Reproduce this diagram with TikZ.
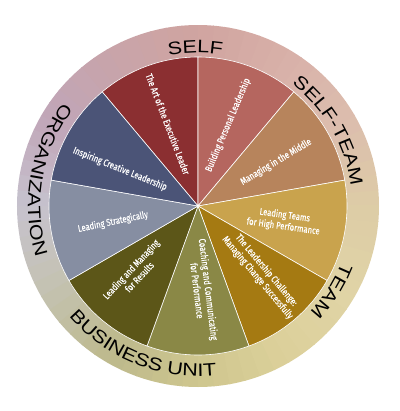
\documentclass[tikz,border=0pt]{standalone}
\usepackage{fontspec}
\usetikzlibrary{decorations.text}
\newfontfamily\slicefont[FakeStretch=0.78,FakeBold=0.3]{Fira Sans}
\newfontfamily\ringfont[FakeStretch=1.2]{Liberation Sans}

% ring colours, by angle
\definecolor{ra}{HTML}{DDCCA6}
\definecolor{rb}{HTML}{DCBDAE}
\definecolor{rc}{HTML}{D8B0A8}
\definecolor{rd}{HTML}{D0A4A0}
\definecolor{re}{HTML}{C8A4AA}
\definecolor{rf}{HTML}{C0A6B8}
\definecolor{rg}{HTML}{C6C2CE}
\definecolor{rh}{HTML}{C4C2B0}
\definecolor{ri}{HTML}{BDB98C}
\definecolor{rj}{HTML}{CEC68E}
\definecolor{rk}{HTML}{DCD09A}
\definecolor{rl}{HTML}{E0D4A6}
% slice colours
\definecolor{artc}{HTML}{8B2F31}
\definecolor{bldc}{HTML}{B5665F}
\definecolor{mgmc}{HTML}{B7845C}
\definecolor{ltmc}{HTML}{C9A34D}
\definecolor{chlc}{HTML}{A57A12}
\definecolor{cchc}{HTML}{8A8846}
\definecolor{rslc}{HTML}{5C5618}
\definecolor{strc}{HTML}{868EA2}
\definecolor{insc}{HTML}{4B5477}

\begin{document}
\begin{tikzpicture}[x=1bp,y=1bp,
    slice/.style={draw=white, line width=0.6bp},
    lbl/.style={text=white, align=center, inner sep=0pt,
        font=\slicefont\fontsize{9.8}{11.5}\selectfont},
    ringtxt/.style={decorate, decoration={text along path, text align=center,
        text={|\ringfont\fontsize{18}{18}\selectfont|#1}}}]
\useasboundingbox (-198,-205) rectangle (202,206);
\coordinate (c) at (0,0);

% outer ring
\foreach \a/\ca/\cb in {0/ra/rb,30/rb/rc,60/rc/rd,90/rd/re,120/re/rf,150/rf/rg,
        180/rg/rh,210/rh/ri,240/ri/rj,270/rj/rk,300/rk/rl,330/rl/ra}{
    \foreach \i in {0,...,5}{
        \pgfmathsetmacro\s{\a+5*\i}
        \pgfmathsetmacro\e{\s+5.3}
        \pgfmathtruncatemacro\p{(\i+0.5)*100/6}
        \fill[\cb!\p!\ca] (\s:140bp) arc[start angle=\s, end angle=\e, radius=140bp]
            -- (\e:181bp) arc[start angle=\e, end angle=\s, radius=181bp] -- cycle;
    }
}

% slices
\foreach \a/\c in {90/artc,50/bldc,10/mgmc,-30/ltmc,-70/chlc,-110/cchc,-150/rslc,170/strc,130/insc}
    \filldraw[slice, fill=\c] (c) -- (\a:149bp) arc[start angle=\a, end angle=\a+40, radius=149bp] -- cycle;

\node[lbl, rotate=-69] (art) at (-30,82) {The Art of the Executive Leader};
\node[lbl, rotate=67] (bld) at (30,81) {Building Personal Leadership};
\node[lbl, rotate=31] (mgm) at (78,44) {Managing in the Middle};
\node[lbl, rotate=-8] (ltm) at (86,-15) {Leading Teams\\for High Performance};
\node[lbl, rotate=-50] (chl) at (64,-68) {The Leadership Challenge:\\Managing Change Successfully};
\node[lbl, rotate=-83] (cch) at (5,-84) {Coaching and Communicating\\for Performance};
\node[lbl, rotate=47] (rsl) at (-63,-67) {Leading and Managing\\for Results};
\node[lbl, rotate=12] (str) at (-85,-16) {Leading Strategically};
\node[lbl, rotate=-22] (ins) at (-78,37) {Inspiring Creative Leadership};

% ring labels
\path[ringtxt=SELF] (135:153bp) arc[start angle=135, end angle=47, radius=153bp];
\path[ringtxt=SELF-TEAM] (75:154bp) arc[start angle=75, end angle=-15, radius=154bp];
\path[ringtxt=TEAM] (10:154bp) arc[start angle=10, end angle=-75, radius=154bp];
\path[ringtxt=BUSINESS UNIT] (190:170bp) arc[start angle=190, end angle=307, radius=170bp];
\path[ringtxt=ORGANIZATION] (115:170bp) arc[start angle=115, end angle=225, radius=170bp];

\end{tikzpicture}
\end{document}
